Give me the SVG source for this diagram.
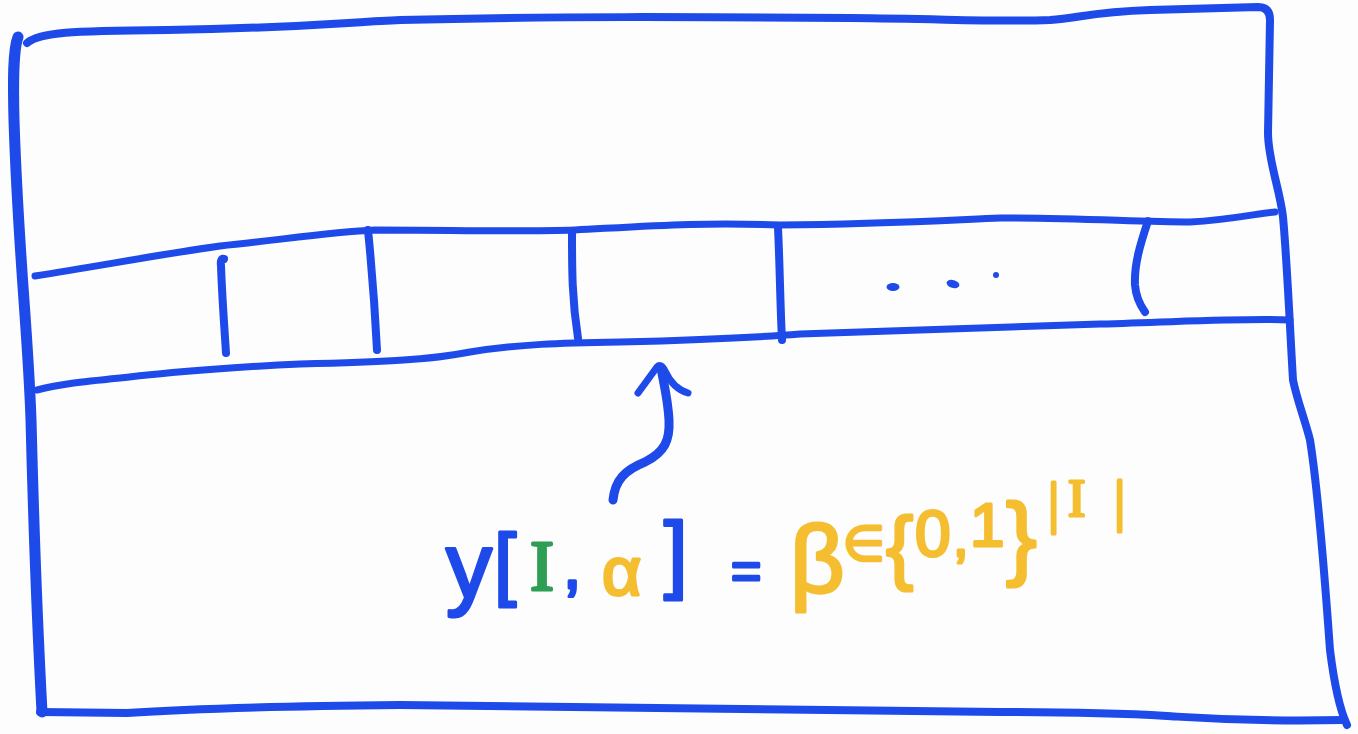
<svg xmlns="http://www.w3.org/2000/svg" width="1358" height="734" viewBox="0 0 1358 734">
<style>
.ink{fill:none;stroke:#1d4ae8;stroke-linecap:round;stroke-linejoin:round}
.b{fill:#1d4ae8;stroke:#1d4ae8}
.g{fill:#2f9e55;stroke:#2f9e55}
.y{fill:#f5be30;stroke:#f5be30}
.t{font-family:"Liberation Sans","DejaVu Sans",sans-serif;stroke-width:3;stroke-linejoin:round}
.s{font-family:"Liberation Serif","DejaVu Serif",serif;stroke-width:3;stroke-linejoin:round}
.d{stroke:none}
</style>
<rect width="1358" height="734" fill="#fdfdfe"/>
<g id="frame">
<path class="ink" stroke-width="8" d="M27,43 C40,32 70,31 167,30 C300,28 350,22 400,20 C550,16 700,17 850,18 C950,19 1000,22 1050,20 C1080,18 1090,12 1150,10 L1258,7 Q1270,7 1270,20 L1268,133 C1268,160 1280,190 1283,217 C1287,260 1290,330 1293,380 C1297,400 1305,420 1310,440 C1318,490 1325,580 1330,650 C1335,690 1340,710 1347,725"/>
<path class="ink" stroke-width="8" d="M1343,720 C1250,722 1200,718 1167,716 C1100,712 1050,712 1000,712 L400,705 C300,706 200,708 127,713 L40,712"/>
<path class="ink" stroke-width="11" d="M18,37 C13,50 13,80 14,120 C18,250 28,330 31,420 C33,500 36,600 42,712"/>
</g>
<g id="strip">
<path class="ink" stroke-width="7" d="M35,276 C100,266 150,256 220,246 C280,240 330,232 375,230 C450,230 520,232 575,230 C650,226 700,222 780,225 C880,224 950,220 1000,218 C1080,218 1140,222 1190,222 C1230,220 1260,213 1275,212"/>
<path class="ink" stroke-width="7" d="M37,390 C60,384 80,382 120,378 C170,372 250,366 300,364 C380,362 430,360 470,352 C520,344 560,343 620,342 C700,340 750,338 800,334 C900,330 1000,328 1100,324 C1200,321 1250,318 1290,320"/>
</g>
<g id="cells">
<path class="ink" stroke-width="8" d="M224,259 Q220,258 221,266 C222,295 224,322 226,353"/>
<path class="ink" stroke-width="8" d="M368,230 C372,270 375,310 377,350"/>
<path class="ink" stroke-width="8" d="M572,233 C572,270 572,300 578,338"/>
<path class="ink" stroke-width="8" d="M778,228 C780,270 780,300 782,340"/>
<path class="ink" stroke-width="8" d="M1148,221 C1140,245 1134,265 1135,285 C1136,298 1140,305 1145,312"/>
<ellipse class="b d" cx="893" cy="287" rx="6.5" ry="4"/>
<ellipse class="b d" cx="953" cy="284" rx="6.5" ry="4" transform="rotate(15 953 284)"/>
<circle class="b d" cx="996" cy="275" r="3"/>
</g>
<g id="connectors">
<path class="ink" stroke-width="9" d="M613,500 C615,480 625,470 645,462 C665,452 670,440 669,420 C668,400 664,385 661,368"/>
<path class="ink" stroke-width="7" d="M638,393 L657,367 Q661,363 665,371 C670,382 678,390 688,393"/>
</g>
<g id="label">
<text class="t b" x="446" y="598" font-size="92">y</text>
<text class="t b" x="494" y="590" font-size="80">[</text>
<text class="s g" x="530" y="590" font-size="72">I</text>
<text class="t b" x="563" y="588" font-size="66">,</text>
<text class="t y" x="602" y="595" font-size="68">α</text>
<text class="t b" x="664" y="582" font-size="85">]</text>
<text class="t b" x="731" y="589" font-size="52">=</text>
<text class="t y" x="790" y="592" font-size="95">β</text>
<text class="t y" x="843" y="560" font-size="48">∈</text>
<text class="t y" x="886" y="574" font-size="82">{</text>
<text class="t y" x="915" y="556" font-size="64">0</text>
<text class="t y" x="953" y="556" font-size="56">,</text>
<text class="t y" x="970" y="546" font-size="62">1</text>
<text class="t y" x="1006" y="568" font-size="92">}</text>
<text class="s y" x="1048" y="522" font-size="56">|</text>
<text class="s y" x="1068" y="516" font-size="52">I</text>
<text class="s y" x="1114" y="520" font-size="56">|</text>
</g>
</svg>
